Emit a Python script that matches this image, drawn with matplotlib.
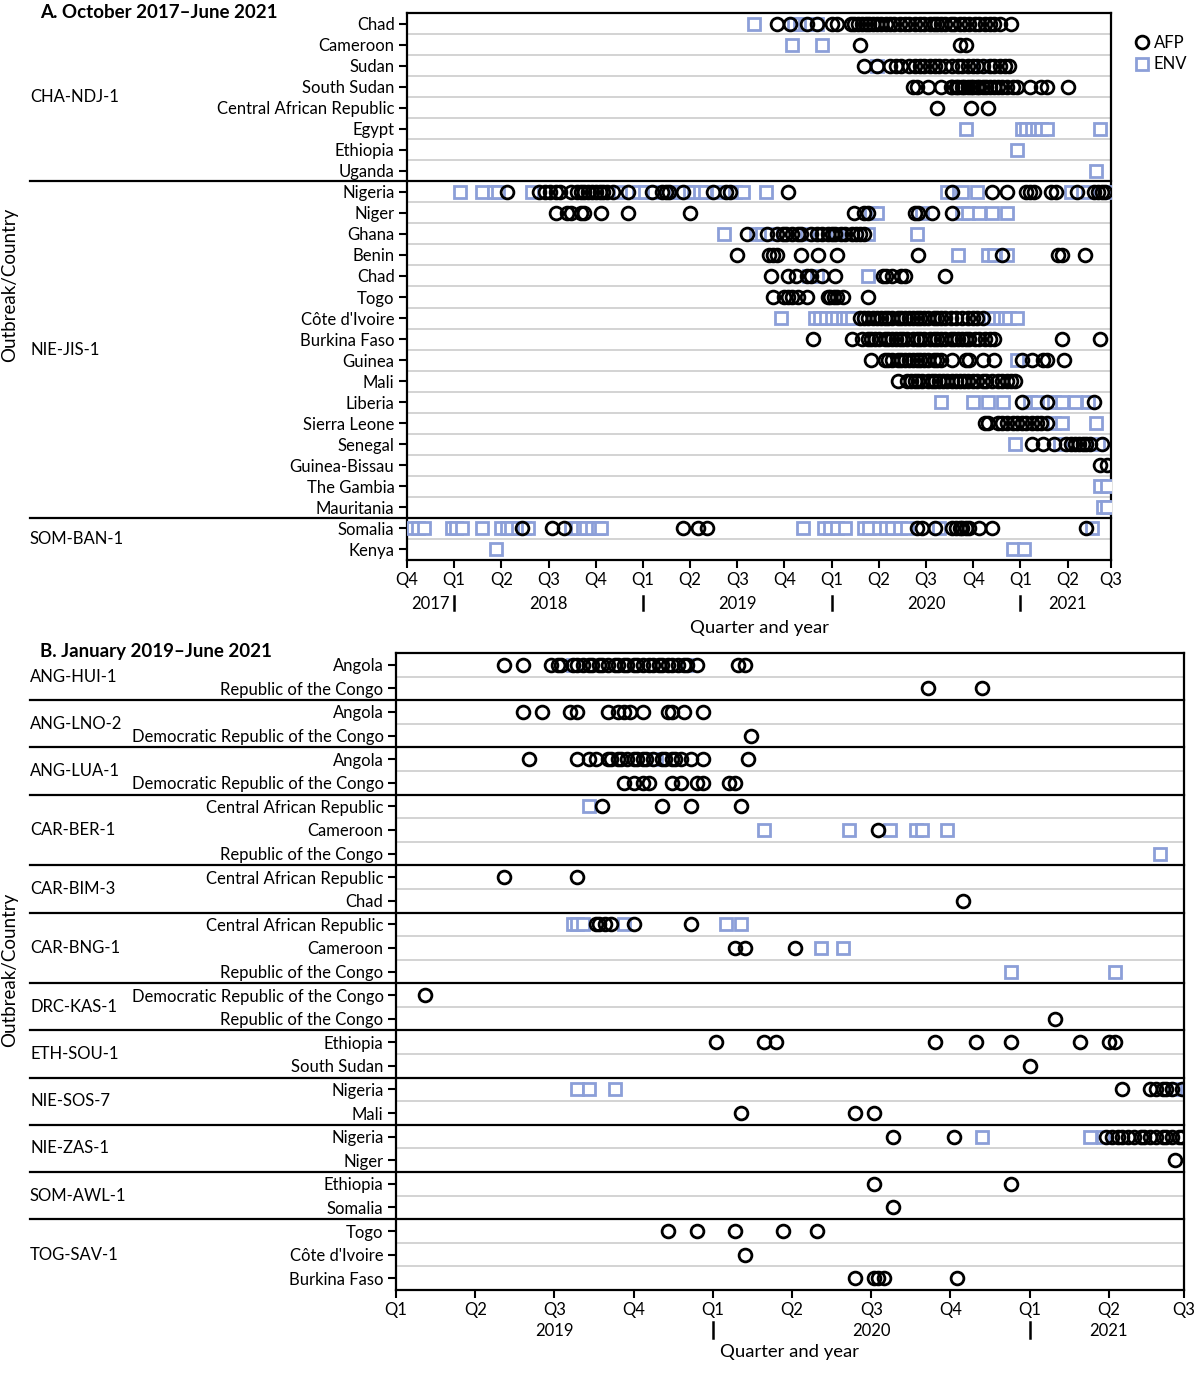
import matplotlib
matplotlib.use("Agg")
import matplotlib.pyplot as plt
import matplotlib.transforms as mtransforms
from matplotlib.lines import Line2D

plt.rcParams['font.family'] = ['Lato', 'DejaVu Sans']

AFP_COLOR = 'black'
ENV_COLOR = '#8c9fd8'
LABEL_SIZE = 12

# ---------------- Panel A: October 2017 - June 2021 ----------------
outbreaks_a = ["CHA-NDJ-1", "NIE-JIS-1", "SOM-BAN-1"]
group_sizes_a = [8, 16, 2]
countries_a = ["Chad", "Cameroon", "Sudan", "South Sudan", "Central African Republic",
               "Egypt", "Ethiopia", "Uganda",
               "Nigeria", "Niger", "Ghana", "Benin", "Chad", "Togo", "Côte d'Ivoire",
               "Burkina Faso", "Guinea", "Mali", "Liberia", "Sierra Leone", "Senegal",
               "Guinea-Bissau", "The Gambia", "Mauritania",
               "Somalia", "Kenya"]

# detection dates as decimal years, AFP cases
afp_a = [
    # CHA-NDJ-1
    [2019.71, 2019.78, 2019.87, 2019.92, 2020.00, 2020.03, 2020.10, 2020.12, 2020.14, 2020.16,
     2020.18, 2020.20, 2020.22, 2020.24, 2020.26, 2020.29, 2020.31, 2020.33, 2020.36, 2020.39,
     2020.41, 2020.44, 2020.47, 2020.49, 2020.52, 2020.54, 2020.56, 2020.58, 2020.60, 2020.63,
     2020.65, 2020.68, 2020.70, 2020.73, 2020.76, 2020.78, 2020.81, 2020.84, 2020.86, 2020.89,
     2020.95],
    [2020.15, 2020.68, 2020.71],
    [2020.17, 2020.24, 2020.31, 2020.34, 2020.37, 2020.41, 2020.44, 2020.47, 2020.49, 2020.52,
     2020.55, 2020.57, 2020.60, 2020.64, 2020.67, 2020.69, 2020.72, 2020.75, 2020.77, 2020.80,
     2020.84, 2020.86, 2020.89, 2020.92, 2020.94],
    [2020.43, 2020.45, 2020.51, 2020.58, 2020.63, 2020.64, 2020.66, 2020.67, 2020.69, 2020.70,
     2020.72, 2020.74, 2020.75, 2020.77, 2020.78, 2020.80, 2020.82, 2020.84, 2020.86, 2020.88,
     2020.90, 2020.93, 2020.96, 2020.98, 2021.05, 2021.11, 2021.14, 2021.25],
    [2020.56, 2020.74, 2020.83],
    [],
    [],
    [],
    # NIE-JIS-1
    [2018.28, 2018.45, 2018.48, 2018.51, 2018.54, 2018.56, 2018.62, 2018.65, 2018.67, 2018.69,
     2018.71, 2018.73, 2018.75, 2018.77, 2018.79, 2018.81, 2018.84, 2018.92, 2019.05, 2019.10,
     2019.12, 2019.14, 2019.21, 2019.37, 2019.44, 2019.46, 2019.77, 2020.64, 2020.85, 2020.93,
     2021.03, 2021.05, 2021.07, 2021.16, 2021.19, 2021.30, 2021.39, 2021.41, 2021.43, 2021.45],
    [2018.54, 2018.60, 2018.62, 2018.67, 2018.69, 2018.78, 2018.92, 2019.25, 2020.12, 2020.17,
     2020.19, 2020.44, 2020.46, 2020.53, 2020.64],
    [2019.55, 2019.66, 2019.71, 2019.74, 2019.76, 2019.79, 2019.82, 2019.84, 2019.89, 2019.92,
     2019.95, 2019.98, 2020.00, 2020.02, 2020.05, 2020.07, 2020.11, 2020.13, 2020.15, 2020.17],
    [2019.50, 2019.67, 2019.69, 2019.71, 2019.84, 2019.93, 2020.03, 2020.46, 2020.90, 2021.20,
     2021.22, 2021.34],
    [2019.68, 2019.77, 2019.81, 2019.87, 2019.89, 2019.95, 2020.02, 2020.27, 2020.29, 2020.32,
     2020.37, 2020.39, 2020.60],
    [2019.69, 2019.75, 2019.77, 2019.79, 2019.82, 2019.87, 2019.98, 2019.99, 2020.01, 2020.03,
     2020.06, 2020.19],
    [2020.15, 2020.17, 2020.19, 2020.22, 2020.24, 2020.26, 2020.28, 2020.30, 2020.32, 2020.35,
     2020.37, 2020.39, 2020.41, 2020.43, 2020.45, 2020.47, 2020.49, 2020.51, 2020.54, 2020.56,
     2020.58, 2020.60, 2020.63, 2020.66, 2020.69, 2020.72, 2020.75, 2020.77, 2020.80],
    [2019.90, 2020.11, 2020.16, 2020.19, 2020.21, 2020.23, 2020.25, 2020.28, 2020.30, 2020.32,
     2020.34, 2020.36, 2020.38, 2020.40, 2020.43, 2020.45, 2020.47, 2020.49, 2020.52, 2020.54,
     2020.56, 2020.58, 2020.60, 2020.63, 2020.65, 2020.67, 2020.69, 2020.71, 2020.73, 2020.76,
     2020.78, 2020.81, 2020.84, 2020.86, 2021.22, 2021.42],
    [2020.21, 2020.28, 2020.30, 2020.32, 2020.35, 2020.37, 2020.39, 2020.41, 2020.43, 2020.45,
     2020.47, 2020.49, 2020.51, 2020.54, 2020.56, 2020.58, 2020.64, 2020.71, 2020.73, 2020.80,
     2020.86, 2021.01, 2021.06, 2021.12, 2021.14, 2021.23],
    [2020.35, 2020.40, 2020.42, 2020.44, 2020.46, 2020.48, 2020.51, 2020.53, 2020.55, 2020.57,
     2020.59, 2020.61, 2020.64, 2020.66, 2020.68, 2020.70, 2020.72, 2020.75, 2020.77, 2020.80,
     2020.82, 2020.85, 2020.88, 2020.90, 2020.93, 2020.95, 2020.97],
    [2021.01, 2021.14, 2021.39],
    [2020.81, 2020.83, 2020.88, 2020.90, 2020.93, 2020.96, 2020.98, 2021.01, 2021.03, 2021.06,
     2021.09, 2021.11, 2021.14],
    [2021.06, 2021.12, 2021.18, 2021.24, 2021.27, 2021.29, 2021.31, 2021.33, 2021.35, 2021.37,
     2021.43],
    [2021.42, 2021.46],
    [],
    [],
    # SOM-BAN-1
    [2018.36, 2018.52, 2018.58, 2019.21, 2019.29, 2019.34, 2020.45, 2020.48, 2020.55, 2020.64,
     2020.66, 2020.68, 2020.69, 2020.71, 2020.73, 2020.78, 2020.85, 2021.35],
    [],
]

# environmental samples
env_a = [
    [2019.59, 2019.80, 2019.83, 2019.86, 2019.89, 2019.92],
    [2019.79, 2019.95],
    [2020.24, 2020.80],
    [],
    [],
    [2020.71, 2021.01, 2021.03, 2021.06, 2021.09, 2021.11, 2021.14, 2021.42],
    [2020.98],
    [2021.40],
    [2018.03, 2018.15, 2018.21, 2018.23, 2018.41, 2018.88, 2018.98, 2019.01, 2019.06, 2019.17,
     2019.20, 2019.25, 2019.27, 2019.30, 2019.33, 2019.40, 2019.49, 2019.53, 2019.65, 2020.61,
     2020.69, 2020.77, 2021.27, 2021.36, 2021.45],
    [2020.21, 2020.24, 2020.48, 2020.69, 2020.72, 2020.78, 2020.85, 2020.93],
    [2019.43, 2019.60, 2019.63, 2019.68, 2019.87, 2020.03, 2020.19, 2020.45],
    [2020.67, 2020.83, 2020.86, 2020.93],
    [2019.88, 2019.92, 2020.19],
    [],
    [2019.73, 2019.91, 2019.94, 2019.97, 2020.00, 2020.03, 2020.06, 2020.08, 2020.11, 2020.84,
     2020.86, 2020.89, 2020.92, 2020.94, 2020.98],
    [],
    [2020.98],
    [],
    [2020.58, 2020.75, 2020.83, 2020.91, 2021.05, 2021.09, 2021.18, 2021.22, 2021.29, 2021.36],
    [2021.18, 2021.22, 2021.40],
    [2020.97, 2021.21, 2021.41],
    [],
    [2021.42, 2021.46],
    [2021.44, 2021.46],
    [2017.78, 2017.81, 2017.84, 2017.99, 2018.01, 2018.04, 2018.15, 2018.25, 2018.28, 2018.30,
     2018.34, 2018.37, 2018.39, 2018.62, 2018.65, 2018.68, 2018.70, 2018.73, 2018.76, 2018.78,
     2019.85, 2019.96, 2019.99, 2020.03, 2020.07, 2020.17, 2020.20, 2020.25, 2020.29, 2020.32,
     2020.36, 2020.40, 2020.57, 2021.38],
    [2018.22, 2020.96, 2021.02],
]

# ---------------- Panel B: January 2019 - June 2021 ----------------
outbreaks_b = ["ANG-HUI-1", "ANG-LNO-2", "ANG-LUA-1", "CAR-BER-1", "CAR-BIM-3", "CAR-BNG-1",
               "DRC-KAS-1", "ETH-SOU-1", "NIE-SOS-7", "NIE-ZAS-1", "SOM-AWL-1", "TOG-SAV-1"]
group_sizes_b = [2, 2, 2, 3, 2, 3, 2, 2, 2, 2, 2, 3]
countries_b = ["Angola", "Republic of the Congo",
               "Angola", "Democratic Republic of the Congo",
               "Angola", "Democratic Republic of the Congo",
               "Central African Republic", "Cameroon", "Republic of the Congo",
               "Central African Republic", "Chad",
               "Central African Republic", "Cameroon", "Republic of the Congo",
               "Democratic Republic of the Congo", "Republic of the Congo",
               "Ethiopia", "South Sudan",
               "Nigeria", "Mali",
               "Nigeria", "Niger",
               "Ethiopia", "Somalia",
               "Togo", "Côte d'Ivoire", "Burkina Faso"]

afp_b = [
    [2019.34, 2019.40, 2019.49, 2019.51, 2019.52, 2019.56, 2019.57, 2019.59, 2019.61, 2019.62,
     2019.64, 2019.65, 2019.67, 2019.69, 2019.70, 2019.72, 2019.73, 2019.75, 2019.76, 2019.78,
     2019.80, 2019.81, 2019.83, 2019.84, 2019.86, 2019.87, 2019.89, 2019.91, 2019.92, 2019.95,
     2020.08, 2020.10],
    [2020.68, 2020.85],
    [2019.40, 2019.46, 2019.55, 2019.57, 2019.67, 2019.70, 2019.72, 2019.74, 2019.78, 2019.86,
     2019.87, 2019.91, 2019.97],
    [2020.12],
    [2019.42, 2019.57, 2019.61, 2019.63, 2019.67, 2019.68, 2019.70, 2019.71, 2019.73, 2019.75,
     2019.76, 2019.78, 2019.79, 2019.81, 2019.84, 2019.85, 2019.87, 2019.88, 2019.90, 2019.93,
     2019.97, 2020.11],
    [2019.72, 2019.75, 2019.78, 2019.80, 2019.87, 2019.90, 2019.95, 2019.97, 2020.05, 2020.07],
    [2019.65, 2019.84, 2019.93, 2020.09],
    [2020.52],
    [],
    [2019.34, 2019.57],
    [2020.79],
    [2019.63, 2019.64, 2019.66, 2019.68, 2019.75, 2019.93],
    [2020.07, 2020.10, 2020.26],
    [],
    [2019.09],
    [2021.08],
    [2020.01, 2020.16, 2020.20, 2020.70, 2020.83, 2020.94, 2021.16, 2021.25, 2021.27],
    [2021.00],
    [2021.29, 2021.38, 2021.40, 2021.42, 2021.43, 2021.45, 2021.48],
    [2020.09, 2020.45, 2020.51],
    [2020.57, 2020.76, 2021.24, 2021.26, 2021.28, 2021.29, 2021.31, 2021.33, 2021.35, 2021.36,
     2021.38, 2021.40, 2021.42, 2021.43, 2021.45, 2021.47, 2021.48],
    [2021.46],
    [2020.51, 2020.94],
    [2020.57],
    [2019.86, 2019.95, 2020.07, 2020.22, 2020.33],
    [2020.10],
    [2020.45, 2020.51, 2020.52, 2020.54, 2020.77],
]

env_b = [
    [2019.56, 2019.92],
    [],
    [],
    [],
    [2019.82],
    [],
    [2019.61],
    [2020.16, 2020.43, 2020.56, 2020.64, 2020.66, 2020.74],
    [2021.41],
    [],
    [],
    [2019.56, 2019.57, 2019.59, 2019.72, 2020.04, 2020.09],
    [2020.34, 2020.41],
    [2020.94, 2021.27],
    [],
    [],
    [],
    [],
    [2019.57, 2019.61, 2019.69, 2021.46],
    [],
    [2020.85, 2021.19, 2021.23],
    [],
    [],
    [],
    [],
    [],
    [],
]


def draw_panel(fig, ax, outbreaks, sizes, countries, afp, env, x0, x_end, q_labels,
               years, year_pos, year_bars, year_y, xlabel_y, bar_y):
    n = len(countries)
    for i in range(n):
        if env[i]:
            ax.plot(env[i], [i] * len(env[i]), linestyle='none', marker='s', ms=8.3,
                    mfc='white', mec=ENV_COLOR, mew=2.0, zorder=3)
        if afp[i]:
            ax.plot(afp[i], [i] * len(afp[i]), linestyle='none', marker='o', ms=9.2,
                    mfc='none', mec=AFP_COLOR, mew=2.0, zorder=4)

    ax.set_ylim(n - 0.5, -0.5)
    ax.set_xlim(x0, x_end)
    ax.set_yticks(range(n))
    ax.set_yticklabels(countries)

    # group separators and light row lines
    bounds = []
    start = 0
    for s in sizes:
        bounds.append(start + s - 0.5)
        start += s
    trans = mtransforms.blended_transform_factory(fig.transFigure, ax.transData)
    right = ax.get_position().x1
    for k in range(n - 1):
        y = k + 0.5
        if y in bounds:
            ax.plot([30 / 1200, right], [y, y], color='black', lw=1.6,
                    transform=trans, clip_on=False, zorder=5)
        else:
            ax.axhline(y, color='#d0d0d0', lw=1.3, zorder=1)

    start = 0
    for name, s in zip(outbreaks, sizes):
        mid = start + (s - 1) / 2
        ax.text(30 / 1200, mid, name, transform=trans, ha='left', va='center',
                fontsize=LABEL_SIZE)
        start += s

    ticks = [x0 + 0.25 * k for k in range(len(q_labels) - 1)] + [x_end]
    ax.set_xticks(ticks)
    ax.set_xticklabels(q_labels)

    xt = ax.get_xaxis_transform()
    for yr, pos in zip(years, year_pos):
        ax.text(pos, year_y, yr, transform=xt, ha='center', va='center', fontsize=LABEL_SIZE)
    for b in year_bars:
        ax.plot([b, b], bar_y, color='black', lw=1.8, transform=xt, clip_on=False)
    ax.text((x0 + x_end) / 2, xlabel_y, "Quarter and year", transform=xt,
            ha='center', va='center', fontsize=13.3)

    for sp in ax.spines.values():
        sp.set_linewidth(1.6)
    ax.tick_params(axis='y', length=6, width=1.5, labelsize=LABEL_SIZE, pad=3)
    ax.tick_params(axis='x', length=6, width=1.5, labelsize=LABEL_SIZE, pad=3)


fig = plt.figure(figsize=(12, 14), dpi=100)

ax_a = fig.add_axes([407 / 1200, 1 - 560 / 1400, (1111 - 407) / 1200, (560 - 13) / 1400])
ax_b = fig.add_axes([396 / 1200, 1 - 1290 / 1400, (1184 - 396) / 1200, (1290 - 653) / 1400])

q_a = ["Q4", "Q1", "Q2", "Q3", "Q4", "Q1", "Q2", "Q3", "Q4", "Q1", "Q2", "Q3", "Q4",
       "Q1", "Q2", "Q3"]
draw_panel(fig, ax_a, outbreaks_a, group_sizes_a, countries_a, afp_a, env_a,
           2017.75, 2021.48, q_a,
           ["2017", "2018", "2019", "2020", "2021"],
           [2017.875, 2018.5, 2019.5, 2020.5, 2021.25],
           [2018.0, 2019.0, 2020.0, 2021.0],
           -0.08, -0.124, [-0.066, -0.091])

q_b = ["Q1", "Q2", "Q3", "Q4", "Q1", "Q2", "Q3", "Q4", "Q1", "Q2", "Q3"]
draw_panel(fig, ax_b, outbreaks_b, group_sizes_b, countries_b, afp_b, env_b,
           2019.0, 2021.487, q_b,
           ["2019", "2020", "2021"],
           [2019.5, 2020.5, 2021.25],
           [2020.0, 2021.0],
           -0.064, -0.097, [-0.050, -0.075])

fig.text(40 / 1200, 1 - 12 / 1400, "A. October 2017\u2013June 2021", fontsize=13.5,
         fontweight='bold', va='center', ha='left')
fig.text(40 / 1200, 1 - 652 / 1400, "B. January 2019\u2013June 2021", fontsize=13.5,
         fontweight='bold', va='center', ha='left')
fig.text(10 / 1200, 1 - 285 / 1400, "Outbreak/Country", rotation=90, fontsize=13.5,
         va='center', ha='center')
fig.text(10 / 1200, 1 - 970 / 1400, "Outbreak/Country", rotation=90, fontsize=13.5,
         va='center', ha='center')

handles = [Line2D([], [], linestyle='none', marker='o', ms=9.2, mfc='none', mec=AFP_COLOR,
                  mew=2.0, label='AFP'),
           Line2D([], [], linestyle='none', marker='s', ms=8.3, mfc='none', mec=ENV_COLOR,
                  mew=2.0, label='ENV')]
fig.legend(handles=handles, loc='upper left', bbox_to_anchor=(1124 / 1200, 1 - 23 / 1400),
           frameon=False, fontsize=LABEL_SIZE, handlelength=0.8, handletextpad=0.3,
           labelspacing=0.35, borderpad=0.2)

fig.savefig("out.png", dpi=100)
